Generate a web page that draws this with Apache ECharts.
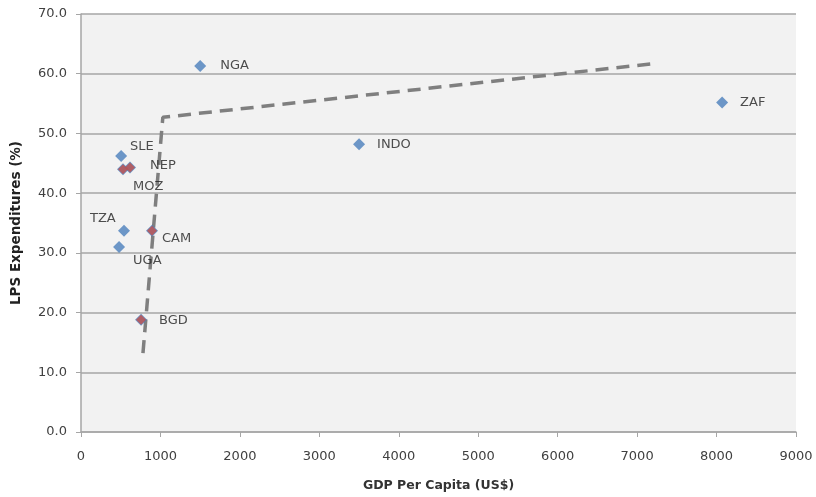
<!DOCTYPE html>
<html><head><meta charset="utf-8">
<script src="https://cdn.jsdelivr.net/npm/echarts@6/dist/echarts.min.js"></script>
<style>html,body{margin:0;padding:0;background:#fff}#c{width:816px;height:497px}</style>
</head><body><div id="c"></div>
<script>
const countries = ['NGA','ZAF','INDO','SLE','NEP','MOZ','TZA','CAM','UGA','BGD'];
const gdp = [1500, 8070, 3500, 505, 617, 529, 541, 894, 479, 756];
const lps = [61.3, 55.2, 48.2, 46.2, 44.3, 44.0, 33.7, 33.7, 31.0, 18.8];
const highlighted = ['NEP','MOZ','CAM','BGD'];
const trendX = [780, 1030, 7220];
const trendY = [13.2, 52.7, 61.7];

const labelOffsets = {NGA:[14,0],ZAF:[12,0],INDO:[12,0],SLE:[3,-9],NEP:[14,-2],MOZ:[4,17],TZA:[-40,-12],CAM:[4,8],UGA:[8,14],BGD:[12,1]};
const font = '"DejaVu Sans", sans-serif';
const chart = echarts.init(document.getElementById('c'));
const pts = countries.map((n,i)=>({name:n,value:[gdp[i],lps[i]],
  label:{show:true,formatter:n,position:'right',distance:0,offset:labelOffsets[n],color:'#222',fontSize:13,fontFamily:font}}));
const redPts = countries.map((n,i)=>[gdp[i],lps[i],n]).filter(p=>highlighted.includes(p[2]));
chart.setOption({
  animation:false,
  backgroundColor:'#fff',
  grid:{left:81,right:20,top:14,bottom:63,show:true,backgroundColor:'#f2f2f2',borderWidth:0},
  xAxis:{type:'value',min:0,max:9000,interval:1000,
    name:'GDP Per Capita (US$)',nameLocation:'middle',nameGap:47,
    nameTextStyle:{fontFamily:font,fontWeight:'bold',fontSize:12.5,color:'#333'},
    axisLine:{show:true,lineStyle:{color:'#a6a6a6',width:1.5}},
    axisTick:{show:true,length:5,lineStyle:{color:'#a6a6a6'}},
    axisLabel:{fontFamily:font,fontSize:13,color:'#404040',margin:18,formatter:v=>String(v)},
    splitLine:{show:false}},
  yAxis:{type:'value',min:0,max:70,interval:10,
    name:'LPS Expenditures (%)',nameLocation:'middle',nameGap:58,
    nameTextStyle:{fontFamily:font,fontWeight:'bold',fontSize:13.5,color:'#222'},
    axisLine:{show:true,lineStyle:{color:'#a6a6a6',width:1.5}},
    axisTick:{show:true,length:5,lineStyle:{color:'#a6a6a6'}},
    axisLabel:{fontFamily:font,fontSize:13,color:'#404040',margin:14,formatter:v=>v.toFixed(1)},
    splitLine:{show:true,lineStyle:{color:'#a6a6a6',width:1.5}}},
  series:[
    {type:'line',data:trendX.map((x,i)=>[x,trendY[i]]),symbol:'none',z:1,
      lineStyle:{color:'#7f7f7f',width:3.5,type:[13,8]}},
    {type:'scatter',data:pts,symbol:'diamond',symbolSize:12,z:3,
      itemStyle:{color:'#4a7ebb'}},
    {type:'scatter',data:redPts,symbol:'diamond',symbolSize:10,z:4,
      itemStyle:{color:'#c0504d'}}
  ]
});
</script></body></html>
